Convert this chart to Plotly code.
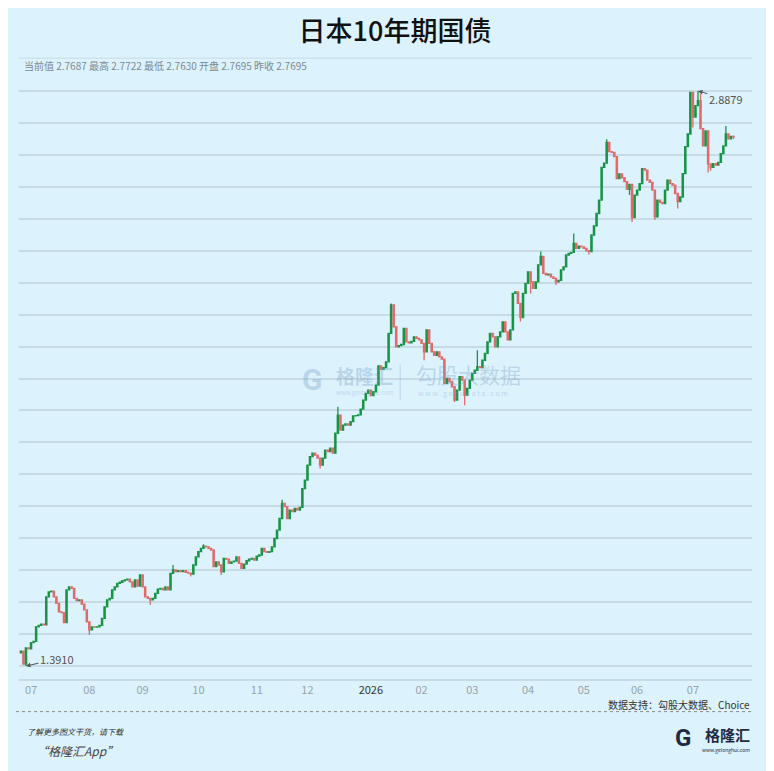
import pandas as pd
import plotly.graph_objects as go

title = "日本10年期国债"

# trading days (weekdays) shown on the chart
dates = pd.bdate_range("2025-06-25", "2026-07-23").strftime("%Y-%m-%d").tolist()

first_open = 1.425
closes = [
    1.430, 1.396, 1.438, 1.436, 1.452, 1.455, 1.493, 1.497, 1.500, 1.498,
    1.571, 1.584, 1.586, 1.571, 1.554, 1.532, 1.530, 1.504, 1.589, 1.597,
    1.593, 1.567, 1.561, 1.563, 1.552, 1.537, 1.506, 1.485, 1.493, 1.492,
    1.493, 1.497, 1.515, 1.545, 1.563, 1.567, 1.589, 1.597, 1.606, 1.609,
    1.613, 1.615, 1.617, 1.610, 1.597, 1.615, 1.599, 1.628, 1.597, 1.571,
    1.567, 1.563, 1.567, 1.580, 1.591, 1.593, 1.589, 1.597, 1.589, 1.632,
    1.641, 1.637, 1.639, 1.637, 1.639, 1.635, 1.633, 1.630, 1.654, 1.675,
    1.689, 1.697, 1.703, 1.701, 1.697, 1.693, 1.650, 1.662, 1.654, 1.636,
    1.671, 1.669, 1.658, 1.662, 1.664, 1.675, 1.658, 1.645, 1.656, 1.665,
    1.669, 1.671, 1.667, 1.677, 1.680, 1.697, 1.689, 1.687, 1.689, 1.701,
    1.723, 1.745, 1.775, 1.814, 1.806, 1.775, 1.797, 1.793, 1.801, 1.797,
    1.804, 1.853, 1.875, 1.914, 1.936, 1.945, 1.940, 1.932, 1.914, 1.932,
    1.953, 1.949, 1.958, 1.945, 1.997, 2.044, 2.005, 2.018, 2.021, 2.018,
    2.027, 2.042, 2.043, 2.045, 2.060, 2.083, 2.101, 2.109, 2.095, 2.105,
    2.122, 2.172, 2.163, 2.168, 2.183, 2.257, 2.331, 2.274, 2.222, 2.225,
    2.228, 2.270, 2.235, 2.232, 2.236, 2.248, 2.244, 2.240, 2.231, 2.209,
    2.266, 2.231, 2.209, 2.200, 2.209, 2.196, 2.190, 2.127, 2.140, 2.131,
    2.118, 2.083, 2.109, 2.144, 2.135, 2.096, 2.114, 2.135, 2.153, 2.161,
    2.170, 2.168, 2.187, 2.205, 2.235, 2.257, 2.248, 2.222, 2.248, 2.261,
    2.287, 2.261, 2.240, 2.266, 2.361, 2.365, 2.335, 2.298, 2.361, 2.387,
    2.417, 2.391, 2.374, 2.391, 2.435, 2.457, 2.413, 2.409, 2.411, 2.404,
    2.400, 2.391, 2.395, 2.422, 2.430, 2.461, 2.465, 2.468, 2.491, 2.478,
    2.484, 2.482, 2.478, 2.472, 2.470, 2.513, 2.537, 2.569, 2.604, 2.689,
    2.700, 2.754, 2.730, 2.728, 2.717, 2.660, 2.672, 2.662, 2.652, 2.632,
    2.645, 2.558, 2.617, 2.630, 2.647, 2.686, 2.682, 2.656, 2.650, 2.630,
    2.560, 2.604, 2.598, 2.595, 2.630, 2.656, 2.647, 2.643, 2.621, 2.600,
    2.612, 2.673, 2.743, 2.776, 2.884, 2.820, 2.850, 2.863, 2.790, 2.745,
    2.784, 2.698, 2.689, 2.699, 2.695, 2.702, 2.725, 2.745, 2.776, 2.763,
    2.7695, 2.7687,
]

# visible wicks (day index -> value)
high_marks = {60: 1.654, 72: 1.708, 103: 1.824, 125: 2.066, 146: 2.335, 180: 2.213,
              205: 2.470, 218: 2.517, 231: 2.762, 267: 2.8879, 268: 2.880, 278: 2.797,
              281: 2.7722}
low_marks = {2: 1.391, 27: 1.472, 51: 1.550, 67: 1.624, 79: 1.628, 118: 1.905,
             159: 2.187, 171: 2.078, 175: 2.070, 197: 2.288, 201: 2.361, 211: 2.383,
             224: 2.462, 240: 2.617, 241: 2.547, 250: 2.552, 259: 2.582, 265: 2.793,
             271: 2.676, 272: 2.680, 281: 2.7630}

tick_dates = ["2025-07-01", "2025-08-01", "2025-09-01", "2025-10-01", "2025-11-03",
              "2025-12-01", "2026-01-05", "2026-02-02", "2026-03-02", "2026-04-01",
              "2026-05-01", "2026-06-01", "2026-07-01"]
tick_labels = ["07", "08", "09", "10", "11", "12", "2026", "02", "03", "04", "05", "06", "07"]

min_idx, max_idx = 2, 267

opens = [first_open] + closes[:-1]
highs = [max(o, c) for o, c in zip(opens, closes)]
lows = [min(o, c) for o, c in zip(opens, closes)]
for i, v in high_marks.items():
    highs[i] = v
for i, v in low_marks.items():
    lows[i] = v

bg = "#dcf2fc"
grid = "#c6dbe6"
green = "#189446"
red = "#e06a6a"
wm = "rgba(120,160,200,0.35)"
font = "Noto Sans CJK SC"

fig = go.Figure(go.Candlestick(
    x=dates, open=opens, high=highs, low=lows, close=closes,
    increasing=dict(line=dict(color=green, width=1.3), fillcolor=green),
    decreasing=dict(line=dict(color=red, width=1.3), fillcolor=red),
    whiskerwidth=0, hoverinfo="skip",
))

ticktext = [('<span style="color:#333">%s</span>' % t) if t == "2026" else t for t in tick_labels]

# the page body adds an 8px offset, so margins are trimmed on the top/left
fig.update_layout(
    width=774, height=771,
    paper_bgcolor=bg, plot_bgcolor=bg,
    margin=dict(l=11, r=30, t=78, b=100),
    showlegend=False,
    font=dict(family=font),
    title=dict(text=title, x=0.5, xanchor="center", y=0.970, yanchor="middle",
               font=dict(size=27, color="#111", family=font, weight=500)),
    xaxis=dict(type="category", rangeslider=dict(visible=False),
               range=[-0.75, len(dates) + 6.3],
               tickmode="array", tickvals=tick_dates, ticktext=ticktext,
               tickfont=dict(size=11, color="#98a4ad"), ticks="", ticklen=0,
               showgrid=False, showline=True, linecolor=grid, linewidth=1.5),
    yaxis=dict(range=[1.3572, 2.9009], showticklabels=False, ticks="",
               tick0=1.391, dtick=0.08316, showgrid=True, gridcolor=grid,
               gridwidth=1.5, zeroline=False),
)

cur = "当前值 %.4f 最高 %.4f 最低 %.4f 开盘 %.4f 昨收 %.4f" % (
    closes[-1], highs[-1], lows[-1], opens[-1], closes[-2])

annotations = [
    dict(text=cur, xref="paper", yref="paper", x=0.004, y=1.034, xanchor="left",
         yanchor="middle", showarrow=False, font=dict(size=10, color="#7d8a93")),
    dict(text="%.4f" % lows[min_idx], x=dates[min_idx], y=lows[min_idx], ax=31, ay=-7,
         showarrow=True, arrowhead=2, arrowsize=0.9, arrowwidth=1, arrowcolor="#555",
         font=dict(size=11, color="#555")),
    dict(text="%.4f" % highs[max_idx], x=dates[max_idx], y=highs[max_idx], ax=28, ay=8,
         showarrow=True, arrowhead=2, arrowsize=0.9, arrowwidth=1, arrowcolor="#555",
         font=dict(size=11, color="#555")),
    dict(text="数据支持：勾股大数据、Choice", xref="paper", yref="paper", x=1.0, y=-0.043,
         xanchor="right", yanchor="middle", showarrow=False,
         font=dict(size=10, color="#333")),
    dict(text="<i>了解更多图文干货，请下载</i>", xref="paper", yref="paper", x=0.008, y=-0.088,
         xanchor="left", yanchor="middle", showarrow=False, font=dict(size=8, color="#333")),
    dict(text="<i>“格隆汇App”</i>", xref="paper", yref="paper", x=0.02, y=-0.12,
         xanchor="left", yanchor="middle", showarrow=False, font=dict(size=12, color="#444")),
    # logo bottom right
    dict(text="<b>G</b>", xref="paper", yref="paper", x=0.906, y=-0.1, xanchor="center",
         yanchor="middle", showarrow=False, font=dict(size=24, color="#1d2a44", family="Roboto")),
    dict(text="<b>格隆汇</b>", xref="paper", yref="paper", x=1.0, y=-0.093, xanchor="right",
         yanchor="middle", showarrow=False, font=dict(size=15, color="#1d2a44")),
    dict(text="www.gelonghui.com", xref="paper", yref="paper", x=1.0, y=-0.12, xanchor="right",
         yanchor="middle", showarrow=False, font=dict(size=5, color="#1d2a44")),
    # watermark
    dict(text="<b>G</b>", xref="paper", yref="paper", x=0.4, y=0.505, xanchor="center",
         yanchor="middle", showarrow=False, font=dict(size=30, color=wm, family="Roboto")),
    dict(text="<b>格隆汇</b>", xref="paper", yref="paper", x=0.43, y=0.512, xanchor="left",
         yanchor="middle", showarrow=False, font=dict(size=19, color=wm)),
    dict(text="www.gelonghui.com", xref="paper", yref="paper", x=0.43, y=0.483, xanchor="left",
         yanchor="middle", showarrow=False, font=dict(size=6, color=wm)),
    dict(text="勾股大数据", xref="paper", yref="paper", x=0.539, y=0.515, xanchor="left",
         yanchor="middle", showarrow=False, font=dict(size=21, color=wm)),
    dict(text="w w w . g o g u d a t a . c o m", xref="paper", yref="paper", x=0.542, y=0.483,
         xanchor="left", yanchor="middle", showarrow=False, font=dict(size=7, color=wm)),
]
fig.update_layout(annotations=annotations)

fig.add_shape(type="line", xref="paper", yref="paper", x0=0, x1=1, y0=1.047, y1=1.047,
              line=dict(color=grid, width=1))
fig.add_shape(type="line", xref="paper", yref="paper", x0=-0.004, x1=1.0015, y0=-0.055, y1=-0.055,
              line=dict(color="#8a8a8a", width=1, dash="dot"))
fig.add_shape(type="line", xref="paper", yref="paper", x0=0.52, x1=0.52, y0=0.47, y1=0.53,
              line=dict(color=wm, width=1))

fig.write_html("out.html")
